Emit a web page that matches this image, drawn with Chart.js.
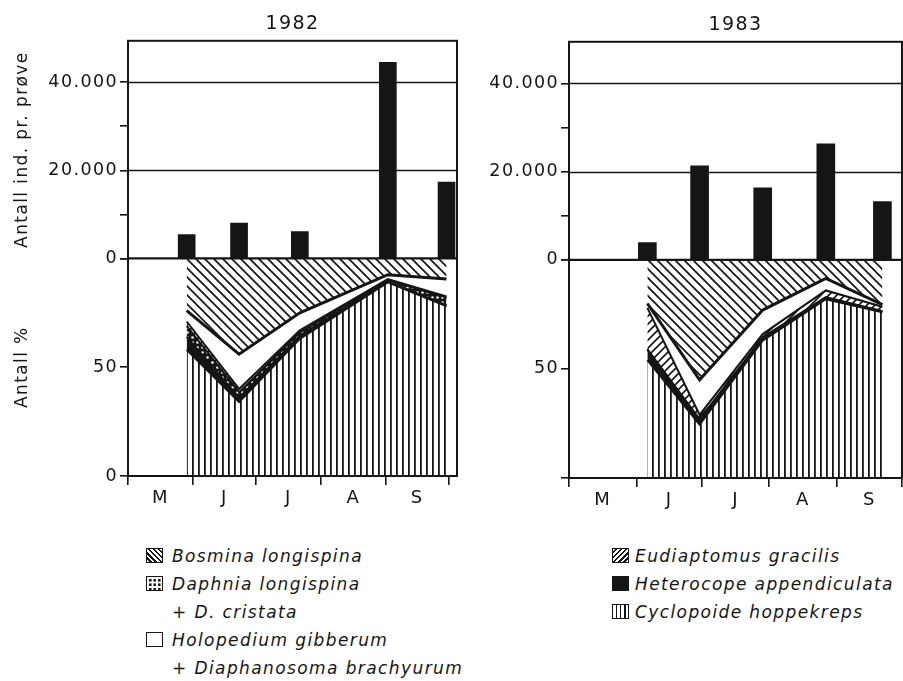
<!DOCTYPE html>
<html>
<head>
<meta charset="utf-8">
<script src="https://cdn.jsdelivr.net/npm/chart.js@4.4.1/dist/chart.umd.min.js"></script>
<style>
  body { margin: 0; background: #fff; }
  #page { position: relative; width: 903px; height: 681px; overflow: hidden; font-family: "DejaVu Sans", sans-serif; color: #151515; }
  canvas { position: absolute; top: 0; }
  .legend { position: absolute; top: 542px; font-style: italic; font-size: 17px; line-height: 28px; letter-spacing: 1.4px; white-space: nowrap; }
  .row { position: relative; height: 28px; }
  .left .row { padding-left: 26px; }
  .right .row { padding-left: 23px; }
  .box { position: absolute; left: 0; top: 6px; width: 17px; height: 15px; border: 1.5px solid #151515; box-sizing: border-box; }
  .sw-bos { background: repeating-linear-gradient(45deg, #fff 0 2px, #151515 2px 3.6px); }
  .sw-eud { background: repeating-linear-gradient(-45deg, #fff 0 2px, #151515 2px 3.6px); }
  .sw-daph { background: radial-gradient(circle, #151515 1.2px, #fff 1.7px) 1px 1px / 4.5px 4.5px; }
  .sw-het { background: #151515; }
  .sw-cyc { background: repeating-linear-gradient(90deg, #fff 0 2.6px, #151515 2.6px 4.2px); }
</style>
</head>
<body>
<div id="page">
  <canvas id="chart1982" width="460" height="520" style="left:0"></canvas>
  <canvas id="chart1983" width="443" height="520" style="left:460px"></canvas>

  <div class="legend left" style="left:146px">
    <div class="row"><span class="box sw-bos"></span>Bosmina longispina</div>
    <div class="row"><span class="box sw-daph"></span>Daphnia longispina</div>
    <div class="row">+ D. cristata</div>
    <div class="row"><span class="box"></span>Holopedium gibberum</div>
    <div class="row">+ Diaphanosoma brachyurum</div>
  </div>
  <div class="legend right" style="left:612px">
    <div class="row"><span class="box sw-eud"></span>Eudiaptomus gracilis</div>
    <div class="row"><span class="box sw-het"></span>Heterocope appendiculata</div>
    <div class="row"><span class="box sw-cyc"></span>Cyclopoide hoppekreps</div>
  </div>
</div>

<script>
// sampling dates, days after 1 May
const sampleDays1982 = [28, 53, 82, 124, 152];
const sampleDays1983 = [36, 60, 89, 118, 144];

// month axis
const monthLabels = ['M', 'J', 'J', 'A', 'S'];
const monthStarts = [0, 31, 61, 92, 123, 153];

// upper part: total number of individuals per sample
const countTicks = [0, 10000, 20000, 30000, 40000];
const countGrid = [20000, 40000];
const countLabels = { 0: '0', 20000: '20.000', 40000: '40.000' };
const total1982 = [5400, 8000, 6100, 44500, 17300];
const total1983 = [3900, 21300, 16300, 26300, 13200];

// lower part: share in percent, from bottom to top
const pctTicks = [0, 50, 100];
const cyclopoide1982 = [58, 34, 63, 89, 78];
const heterocope1982 = [6, 2, 1.5, 0.5, 0.5];
const daphnia1982 = [5, 2.5, 1.5, 0.5, 3.5];
const eudiaptomus1982 = [2, 1.5, 1, 0.5, 0.5];
const holopedium1982 = [5, 16, 8, 2, 8];
const bosmina1982 = [24, 44, 25, 7.5, 9.5];

const cyclopoide1983 = [54, 24.5, 63, 82, 76];
const heterocope1983 = [5, 2, 1, 0.5, 0.5];
const daphnia1983 = [0, 0.5, 0.5, 0.5, 0];
const eudiaptomus1983 = [19, 2, 1.5, 3, 2];
const holopedium1983 = [2, 16, 11, 5.5, 1];
const bosmina1983 = [20, 55, 23, 8.5, 20.5];

const INK = '#151515';
Chart.defaults.font.family = '"DejaVu Sans", sans-serif';
Chart.defaults.color = INK;

function makePattern(w, h, paint) {
  const c = document.createElement('canvas');
  c.width = w; c.height = h;
  const g = c.getContext('2d');
  g.fillStyle = '#fff';
  g.fillRect(0, 0, w, h);
  paint(g, w, h);
  return g.createPattern(c, 'repeat');
}

// \\\ hatch
const bosminaFill = makePattern(9, 9, (g, w, h) => {
  g.strokeStyle = INK; g.lineWidth = 1.7;
  g.beginPath();
  g.moveTo(-2, -2); g.lineTo(w + 2, h + 2);
  g.moveTo(-2, h - 2); g.lineTo(2, h + 2);
  g.moveTo(w - 2, -2); g.lineTo(w + 2, 2);
  g.stroke();
});
// /// hatch
const eudiaptomusFill = makePattern(8, 8, (g, w, h) => {
  g.strokeStyle = INK; g.lineWidth = 1.6;
  g.beginPath();
  g.moveTo(-2, h + 2); g.lineTo(w + 2, -2);
  g.moveTo(-2, 2); g.lineTo(2, -2);
  g.moveTo(w - 2, h + 2); g.lineTo(w + 2, h - 2);
  g.stroke();
});
// vertical lines
const cyclopoideFill = makePattern(6, 6, (g, w, h) => {
  g.fillStyle = INK;
  g.fillRect(0, 0, 1.8, h);
});
// black with white dots
const daphniaFill = makePattern(5, 5, (g, w, h) => {
  g.fillStyle = INK; g.fillRect(0, 0, w, h);
  g.fillStyle = '#fff';
  g.beginPath(); g.arc(2.5, 2.5, 1.3, 0, Math.PI * 2); g.fill();
});

const spacingPlugin = {
  id: 'spacing',
  beforeUpdate(chart) { chart.ctx.letterSpacing = '1.4px'; }
};

const framePlugin = {
  id: 'frame',
  beforeDatasetsDraw(chart) {
    const { ctx, chartArea: a, scales } = chart;
    ctx.save();
    ctx.strokeStyle = INK;
    ctx.lineWidth = 1.3;
    countGrid.forEach(v => {
      const y = Math.round(scales.yBar.getPixelForValue(v)) + 0.5;
      ctx.beginPath(); ctx.moveTo(a.left, y); ctx.lineTo(a.right, y); ctx.stroke();
    });
    ctx.restore();
  },
  afterDatasetsDraw(chart) {
    const { ctx, chartArea: a, scales } = chart;
    ctx.save();
    ctx.strokeStyle = INK;
    ctx.lineWidth = 2;
    ctx.strokeRect(a.left, a.top, a.right - a.left, a.bottom - a.top);
    const y0 = scales.yBar.getPixelForValue(0);
    ctx.lineWidth = 2.2;
    ctx.beginPath(); ctx.moveTo(a.left, y0); ctx.lineTo(a.right, y0); ctx.stroke();
    ctx.restore();
  }
};

function layer(days, values, fill, bg, width) {
  return {
    type: 'line',
    xAxisID: 'x',
    yAxisID: 'yPct',
    data: days.map((d, i) => ({ x: d, y: values[i] })),
    fill: fill,
    backgroundColor: bg,
    borderColor: INK,
    borderWidth: width,
    pointRadius: 0,
    tension: 0
  };
}

function panel(id, p) {
  const mids = monthLabels.map((m, i) => (monthStarts[i] + monthStarts[i + 1]) / 2);
  const xTicks = monthStarts.concat(mids);
  new Chart(document.getElementById(id), {
    type: 'line',
    data: {
      datasets: [
        {
          type: 'bar',
          xAxisID: 'x',
          yAxisID: 'yBar',
          data: p.days.map((d, i) => ({ x: d, y: p.total[i] })),
          backgroundColor: INK,
          borderWidth: 0,
          barThickness: p.barWidth
        },
        layer(p.days, p.cyc, 'origin', cyclopoideFill, 2),
        layer(p.days, p.het, '-1', INK, 2),
        layer(p.days, p.daph, '-1', daphniaFill, 2),
        layer(p.days, p.eud, '-1', eudiaptomusFill, 2),
        layer(p.days, p.hol, '-1', '#fff', 3),
        layer(p.days, p.bos, '-1', bosminaFill, 1)
      ]
    },
    options: {
      responsive: false,
      devicePixelRatio: 1,
      animation: false,
      events: [],
      layout: { padding: { top: 0, right: p.padRight, bottom: 0, left: 0 } },
      plugins: {
        legend: { display: false },
        tooltip: { enabled: false },
        title: {
          display: true, text: p.year, fullSize: false, color: INK,
          font: { size: 19, weight: 'normal' },
          padding: { top: p.titleTop, bottom: 5 }
        }
      },
      scales: {
        x: {
          type: 'linear', min: 0, max: p.xMax, offset: false,
          afterBuildTicks: s => { s.ticks = xTicks.map(v => ({ value: v })); },
          afterFit: s => { s.height = p.xHeight; },
          border: { display: false },
          grid: {
            offset: false, drawOnChartArea: false, tickLength: 9, lineWidth: 1.6,
            color: c => (c.tick && monthStarts.includes(c.tick.value)) ? INK : 'rgba(0,0,0,0)'
          },
          ticks: {
            autoSkip: false, maxRotation: 0, padding: 3, color: INK, font: { size: 18 },
            callback: v => { const i = mids.indexOf(v); return i >= 0 ? monthLabels[i] : ''; }
          }
        },
        yPct: {
          type: 'linear', position: 'left', stack: 'panel', stackWeight: 1, weight: 1,
          stacked: true, min: 0, max: 100,
          afterBuildTicks: s => { s.ticks = pctTicks.map(v => ({ value: v })); },
          afterFit: s => { s.width = p.yWidth; },
          border: { display: false },
          grid: { drawOnChartArea: false, tickLength: 8, lineWidth: 1.6, color: INK },
          ticks: { padding: 2, color: INK, font: { size: 17.5 }, callback: v => p.pctLabels[v] || '' },
          title: { display: p.titles, text: 'Antall %', color: INK, font: { size: 17 }, padding: { top: 12, bottom: 0 } }
        },
        yBar: {
          type: 'linear', position: 'left', stack: 'panel', stackWeight: 1, weight: 2,
          min: 0, max: 49400,
          afterBuildTicks: s => { s.ticks = countTicks.map(v => ({ value: v })); },
          afterFit: s => { s.width = p.yWidth; },
          border: { display: false },
          grid: { drawOnChartArea: false, tickLength: 8, lineWidth: 1.6, color: INK },
          ticks: { padding: 2, color: INK, font: { size: 17.5 }, callback: v => countLabels[v] || '' },
          title: { display: p.titles, text: 'Antall ind. pr. prøve', color: INK, font: { size: 17 }, padding: { top: 12, bottom: 0 } }
        }
      }
    },
    plugins: [spacingPlugin, framePlugin]
  });
}

panel('chart1982', {
  year: '1982', days: sampleDays1982, total: total1982,
  cyc: cyclopoide1982, het: heterocope1982, daph: daphnia1982,
  eud: eudiaptomus1982, hol: holopedium1982, bos: bosmina1982,
  xMax: 157, yWidth: 128, xHeight: 44, padRight: 3, titleTop: 13,
  barWidth: 17, titles: true, pctLabels: { 0: '0', 50: '50' }
});

panel('chart1983', {
  year: '1983', days: sampleDays1983, total: total1983,
  cyc: cyclopoide1983, het: heterocope1983, daph: daphnia1983,
  eud: eudiaptomus1983, hol: holopedium1983, bos: bosmina1983,
  xMax: 153, yWidth: 109, xHeight: 42, padRight: 1, titleTop: 14,
  barWidth: 18, titles: false, pctLabels: { 50: '50' }
});
</script>
</body>
</html>
